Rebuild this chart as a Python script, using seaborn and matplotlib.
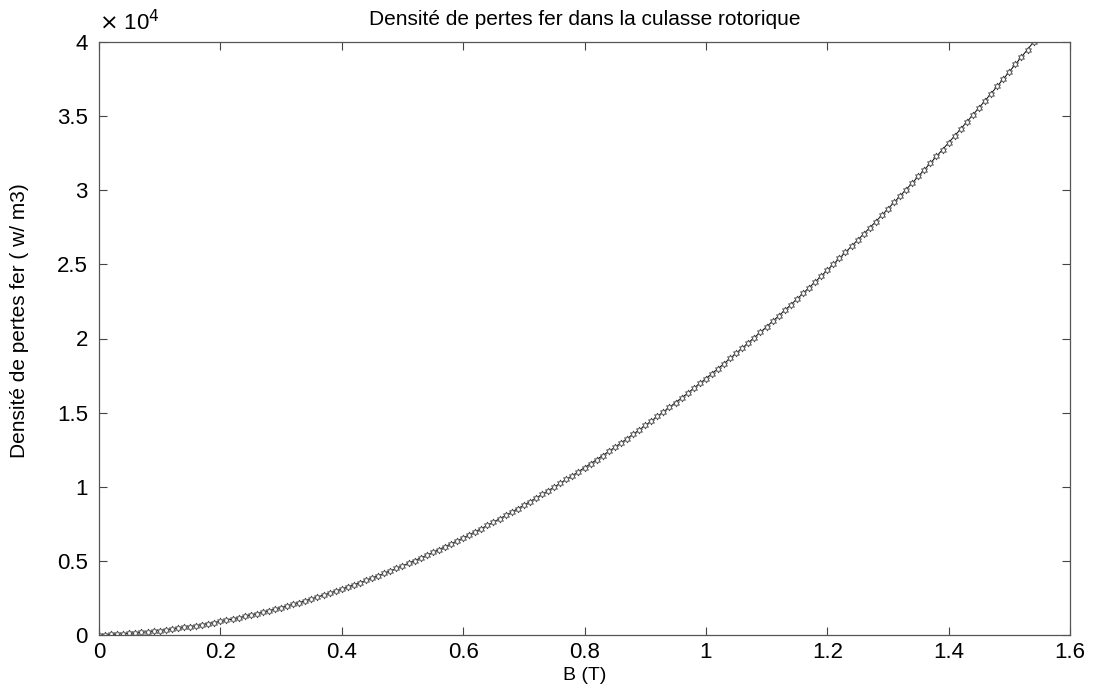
import numpy as np
import pandas as pd
import matplotlib
matplotlib.use("Agg")
import matplotlib.pyplot as plt
import seaborn as sns

# ---- data ----
b_start, b_step = 0.0, 0.01
densite = [0,16,35,57,83,111,143,178,216,257,301,348,399,453,510,570,633,699,769,841,
           917,996,1079,1164,1252,1344,1439,1537,1638,1743,1850,1961,2075,2192,2312,2435,
           2562,2692,2825,2961,3100,3242,3388,3537,3689,3844,4002,4164,4329,4496,4668,4842,
           5019,5200,5384,5571,5761,5954,6151,6351,6554,6760,6969,7182,7398,7617,7839,8064,
           8293,8524,8759,8997,9239,9483,9731,9982,10236,10494,10754,11018,11285,11555,11829,
           12105,12385,12668,12954,13244,13537,13833,14132,14434,14740,15048,15360,15676,15994,
           16316,16641,16969,17300,17635,17972,18313,18658,19005,19356,19710,20067,20427,20791,
           21158,21528,21901,22278,22657,23040,23427,23816,24209,24605,25004,25406,25812,26221,
           26633,27049,27467,27889,28314,28743,29174,29609,30047,30489,30933,31381,31832,32287,
           32744,33205,33669,34137,34608,35081,35559,36039,36523,37010,37500,37994,38490,38990,
           39494,40000]
B = [round(b_start + i * b_step, 2) for i in range(len(densite))]
x_ticks = [0, 0.2, 0.4, 0.6, 0.8, 1.0, 1.2, 1.4, 1.6]
x_ticklabels = ["0", "0.2", "0.4", "0.6", "0.8", "1", "1.2", "1.4", "1.6"]
y_ticks = [0, 5000, 10000, 15000, 20000, 25000, 30000, 35000, 40000]
y_ticklabels = ["0", "0.5", "1", "1.5", "2", "2.5", "3", "3.5", "4"]
title = "Densité de pertes fer dans la culasse rotorique"
xlabel = "B (T)"
ylabel = "Densité de pertes fer ( w/ m3)"

df = pd.DataFrame({"B": B, "P": densite})

sns.set_style("ticks")
plt.rcParams["font.family"] = ["Liberation Sans", "DejaVu Sans"]
plt.rcParams["text.color"] = "black"
plt.rcParams["axes.labelcolor"] = "black"
plt.rcParams["xtick.color"] = "black"
plt.rcParams["ytick.color"] = "black"

fig = plt.figure(figsize=(10.95, 6.89), dpi=100)
ax = fig.add_axes([99/1095, 54/689, 971/1095, 593/689])

hexagram = (6, 1, 0)
sns.lineplot(data=df, x="B", y="P", ax=ax, color="black", linewidth=0.7,
             marker=hexagram, markersize=5, markerfacecolor="white",
             markeredgecolor="#444444", markeredgewidth=0.6)

ax.set_xlim(0, 1.6)
ax.set_ylim(0, 40000)
ax.set_xticks(x_ticks)
ax.set_xticklabels(x_ticklabels)
ax.set_yticks(y_ticks)
ax.set_yticklabels(y_ticklabels)
ax.tick_params(direction="in", top=True, right=True, length=6, width=0.8,
               color="#444444", labelcolor="black", labelsize=16)
ax.tick_params(axis="x", pad=5)
ax.tick_params(axis="y", pad=8)
for s in ax.spines.values():
    s.set_visible(True)
    s.set_color("#555555")
    s.set_linewidth(0.9)

ax.set_title(title, fontsize=15, pad=12, color="black")
ax.set_xlabel(xlabel, fontsize=14, labelpad=3, color="black")
ax.set_ylabel(ylabel, fontsize=15, labelpad=16, color="black")
ax.yaxis.set_label_coords(-0.072, 0.53)
ax.text(0.0, 1.012, r"$\times$ 10$^4$", transform=ax.transAxes, fontsize=16,
        ha="left", va="bottom", color="black")

fig.savefig("out.png", dpi=100, facecolor="white")
